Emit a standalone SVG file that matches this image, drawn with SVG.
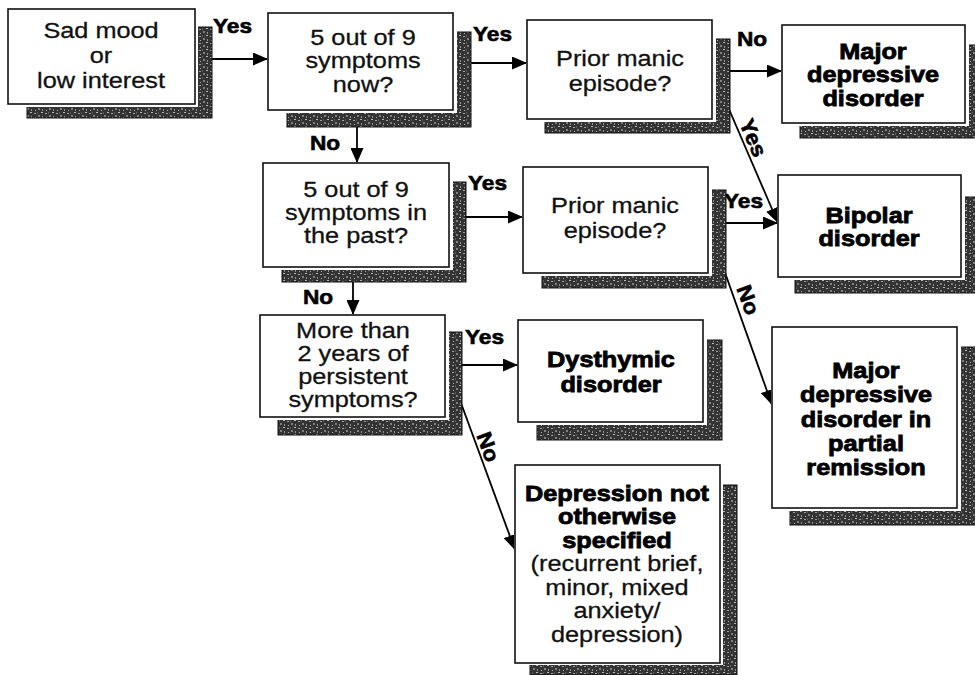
<svg xmlns="http://www.w3.org/2000/svg" width="975" height="675" viewBox="0 0 975 675">
<defs>
<pattern id="stip" width="11" height="7" patternUnits="userSpaceOnUse">
<rect width="11" height="7" fill="#333"/>
<rect x="1" y="1" width="2" height="1" fill="#a0a0a0"/>
<rect x="5" y="3" width="2" height="2" fill="#808080"/>
<rect x="8" y="0" width="2" height="1" fill="#b8b8b8"/>
<rect x="2" y="5" width="1" height="1" fill="#b0b0b0"/>
<rect x="9" y="4" width="1" height="2" fill="#909090"/>
<rect x="4" y="0" width="1" height="2" fill="#5a5a5a"/>
</pattern>
<marker id="ah" markerWidth="15" markerHeight="13" refX="15" refY="6.5" orient="auto" markerUnits="userSpaceOnUse">
<path d="M0,0 L15,6.5 L0,13 z" fill="#000"/>
</marker>
</defs>
<style>
.sh{fill:url(#stip);stroke:#111;stroke-width:1}
.halo{fill:#fff}
.box{fill:#fff;stroke:#111;stroke-width:1.6}
.q{font-family:"Liberation Sans",Arial,sans-serif;font-size:22px;text-anchor:middle;fill:#111;stroke:#111;stroke-width:0.3}
.t{font-family:"Liberation Sans",Arial,sans-serif;font-size:22px;font-weight:bold;text-anchor:middle;fill:#000;stroke:#000;stroke-width:0.8}
.lbl{font-family:"Liberation Sans",Arial,sans-serif;font-size:21px;font-weight:bold;fill:#000;stroke:#000;stroke-width:0.6}
.c{stroke:#000;stroke-width:1.8;fill:none;marker-end:url(#ah)}
</style>
<rect width="975" height="675" fill="#fff"/>

<g id="connectors">
<line class="c" x1="195" y1="59" x2="268" y2="59"/>
<line class="c" x1="453" y1="63" x2="527" y2="63"/>
<line class="c" x1="357" y1="110" x2="357" y2="163"/>
<line class="c" x1="712" y1="71" x2="782" y2="71"/>
<line class="c" x1="713" y1="72" x2="778" y2="223"/>
<line class="c" x1="449" y1="217" x2="523" y2="217"/>
<line class="c" x1="353" y1="267" x2="353" y2="315"/>
<line class="c" x1="708" y1="223" x2="778" y2="223"/>
<line class="c" x1="707" y1="222" x2="772" y2="405"/>
<line class="c" x1="445" y1="365" x2="518" y2="365"/>
<line class="c" x1="447" y1="365" x2="515" y2="550"/>
<text class="lbl" transform="translate(213 33) scale(1.08 1)">Yes</text>
<text class="lbl" transform="translate(473 41) scale(1.08 1)">Yes</text>
<text class="lbl" transform="translate(310 150) scale(1.08 1)">No</text>
<text class="lbl" transform="translate(737 46) scale(1.08 1)">No</text>
<text class="lbl" text-anchor="middle" transform="translate(753 138) rotate(67) scale(1.08 1)" y="7">Yes</text>
<text class="lbl" transform="translate(468 190) scale(1.08 1)">Yes</text>
<text class="lbl" transform="translate(303 304) scale(1.08 1)">No</text>
<text class="lbl" transform="translate(724 208) scale(1.08 1)">Yes</text>
<text class="lbl" text-anchor="middle" transform="translate(748 300) rotate(70) scale(1.08 1)" y="7">No</text>
<text class="lbl" transform="translate(465 344) scale(1.08 1)">Yes</text>
<text class="lbl" text-anchor="middle" transform="translate(488 447) rotate(70) scale(1.08 1)" y="7">No</text>
</g>

<g id="n1">
<rect class="sh" x="27" y="27" width="185" height="91"/>
<rect class="halo" x="7" y="8" width="191" height="99"/>
<rect class="box" x="8" y="9" width="187" height="95"/>
<g transform="translate(101 0) scale(1.15 1)">
<text class="q" x="0" y="38">Sad mood</text>
<text class="q" x="0" y="63">or</text>
<text class="q" x="0" y="88">low interest</text>
</g>
</g>

<g id="n2">
<rect class="sh" x="287" y="32" width="184" height="95"/>
<rect class="halo" x="267" y="12" width="190" height="101"/>
<rect class="box" x="268" y="13" width="185" height="97"/>
<g transform="translate(363 0) scale(1.15 1)">
<text class="q" x="0" y="45">5 out of 9</text>
<text class="q" x="0" y="68">symptoms</text>
<text class="q" x="0" y="92">now?</text>
</g>
</g>

<g id="n3">
<rect class="sh" x="545" y="39" width="185" height="94"/>
<rect class="halo" x="526" y="19" width="190" height="103"/>
<rect class="box" x="527" y="20" width="185" height="99"/>
<g transform="translate(620 0) scale(1.15 1)">
<text class="q" x="0" y="66">Prior manic</text>
<text class="q" x="0" y="91">episode?</text>
</g>
</g>

<g id="n4">
<rect class="sh" x="800" y="45" width="180" height="93"/>
<rect class="halo" x="781" y="24" width="188" height="102"/>
<rect class="box" x="782" y="25" width="183" height="98"/>
<g transform="translate(873 0) scale(1.15 1)">
<text class="t" x="0" y="59">Major</text>
<text class="t" x="0" y="82">depressive</text>
<text class="t" x="0" y="106">disorder</text>
</g>
</g>

<g id="n5">
<rect class="sh" x="282" y="182" width="184" height="100"/>
<rect class="halo" x="262" y="162" width="191" height="108"/>
<rect class="box" x="263" y="163" width="186" height="104"/>
<g transform="translate(356 0) scale(1.15 1)">
<text class="q" x="0" y="197">5 out of 9</text>
<text class="q" x="0" y="220">symptoms in</text>
<text class="q" x="0" y="243">the past?</text>
</g>
</g>

<g id="n6">
<rect class="sh" x="542" y="190" width="184" height="98"/>
<rect class="halo" x="522" y="166" width="190" height="110"/>
<rect class="box" x="523" y="167" width="185" height="106"/>
<g transform="translate(615 0) scale(1.15 1)">
<text class="q" x="0" y="213">Prior manic</text>
<text class="q" x="0" y="238">episode?</text>
</g>
</g>

<g id="n7">
<rect class="sh" x="795" y="197" width="183" height="96"/>
<rect class="halo" x="777" y="174" width="188" height="106"/>
<rect class="box" x="778" y="175" width="183" height="102"/>
<g transform="translate(869 0) scale(1.15 1)">
<text class="t" x="0" y="223">Bipolar</text>
<text class="t" x="0" y="246">disorder</text>
</g>
</g>

<g id="n8">
<rect class="sh" x="278" y="332" width="184" height="103"/>
<rect class="halo" x="259" y="314" width="190" height="106"/>
<rect class="box" x="260" y="315" width="185" height="102"/>
<g transform="translate(353 0) scale(1.15 1)">
<text class="q" x="0" y="338">More than</text>
<text class="q" x="0" y="361">2 years of</text>
<text class="q" x="0" y="384">persistent</text>
<text class="q" x="0" y="407">symptoms?</text>
</g>
</g>

<g id="n9">
<rect class="sh" x="537" y="340" width="185" height="100"/>
<rect class="halo" x="517" y="319" width="190" height="106"/>
<rect class="box" x="518" y="320" width="185" height="102"/>
<g transform="translate(611 0) scale(1.15 1)">
<text class="t" x="0" y="367">Dysthymic</text>
<text class="t" x="0" y="392">disorder</text>
</g>
</g>

<g id="n10">
<rect class="sh" x="790" y="347" width="186" height="178"/>
<rect class="halo" x="771" y="326" width="190" height="185"/>
<rect class="box" x="772" y="327" width="185" height="181"/>
<g transform="translate(866 0) scale(1.15 1)">
<text class="t" x="0" y="378">Major</text>
<text class="t" x="0" y="402">depressive</text>
<text class="t" x="0" y="427">disorder in</text>
<text class="t" x="0" y="451">partial</text>
<text class="t" x="0" y="475">remission</text>
</g>
</g>

<g id="n11">
<rect class="sh" x="530" y="485" width="207" height="190"/>
<rect class="halo" x="514" y="464" width="209" height="201"/>
<rect class="box" x="515" y="465" width="205" height="198"/>
<g transform="translate(617 0) scale(1.15 1)">
<text class="t" x="0" y="501">Depression not</text>
<text class="t" x="0" y="524">otherwise</text>
<text class="t" x="0" y="548">specified</text>
<text class="q" x="0" y="571">(recurrent brief,</text>
<text class="q" x="0" y="595">minor, mixed</text>
<text class="q" x="0" y="618">anxiety/</text>
<text class="q" x="0" y="642">depression)</text>
</g>
</g>
</svg>
